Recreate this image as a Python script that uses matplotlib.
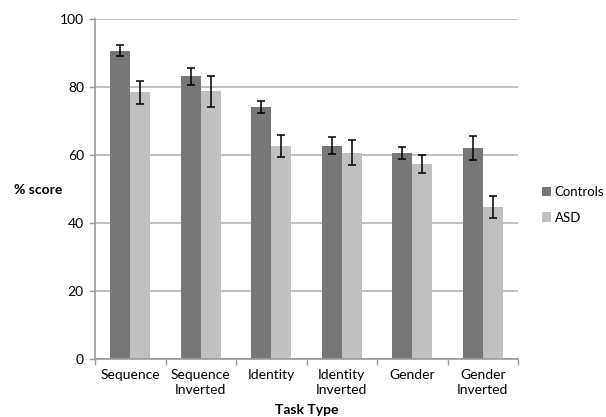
import matplotlib
matplotlib.use("Agg")
import matplotlib.pyplot as plt
import numpy as np

categories = ["Sequence", "Sequence\nInverted", "Identity", "Identity\nInverted", "Gender", "Gender\nInverted"]
controls = [90.7, 83.2, 74.2, 62.7, 60.6, 62.1]
controls_err = [1.6, 2.5, 1.8, 2.5, 1.8, 3.5]
asd = [78.4, 78.7, 62.6, 60.7, 57.3, 44.7]
asd_err = [3.5, 4.5, 3.3, 3.7, 2.7, 3.3]
yticks = [0, 20, 40, 60, 80, 100]

plt.rcParams['font.family'] = ['Lato', 'DejaVu Sans']

fig = plt.figure(figsize=(6.06, 4.17), dpi=100)
ax = fig.add_axes([95/606, 1-359/417, (518-95)/606, (359-19)/417])

x = np.arange(len(categories)) + 0.5
w = 0.285
ax.bar(x - w/2, controls, w, color="#777777", label="Controls", zorder=2)
ax.bar(x + w/2, asd, w, color="#c0c0c0", label="ASD", zorder=2)
ax.errorbar(x - w/2, controls, yerr=controls_err, fmt="none", ecolor="black",
            elinewidth=1.1, capsize=2.8, capthick=1.1, zorder=3)
ax.errorbar(x + w/2, asd, yerr=asd_err, fmt="none", ecolor="black",
            elinewidth=1.1, capsize=2.8, capthick=1.1, zorder=3)

ax.set_xlim(0, len(categories))
ax.set_ylim(0, 100)
ax.set_yticks(yticks)
ax.set_yticklabels([str(t) for t in yticks], fontsize=10)
ax.yaxis.grid(True, color="#b5b5b5", linewidth=1.2, zorder=0)
ax.set_axisbelow(True)

ax.set_xticks(x)
ax.set_xticklabels(categories, fontsize=10, linespacing=1.3)
ax.tick_params(axis="x", which="major", length=0, pad=7)
ax.set_xticks(np.arange(len(categories) + 1), minor=True)
ax.tick_params(axis="x", which="minor", length=4, color="#999999", width=1)
ax.tick_params(axis="y", length=4, color="#999999", width=1, pad=4)

for s in ["top", "right"]:
    ax.spines[s].set_visible(False)
for s in ["left", "bottom"]:
    ax.spines[s].set_color("#999999")
    ax.spines[s].set_linewidth(1.2)

fig.text(14/606, 1-190/417, "% score", fontsize=10, fontweight="bold", va="center", ha="left")
fig.text((95+518)/2/606, 1-410/417, "Task Type", fontsize=10, fontweight="bold", va="center", ha="center")

fig.legend(loc="center left", bbox_to_anchor=(542/606, 1-205/417), frameon=False, fontsize=9.5,
           handlelength=0.7, handleheight=0.7, handletextpad=0.25, labelspacing=1.0,
           borderpad=0, borderaxespad=0)

fig.savefig("out.png", dpi=100)
